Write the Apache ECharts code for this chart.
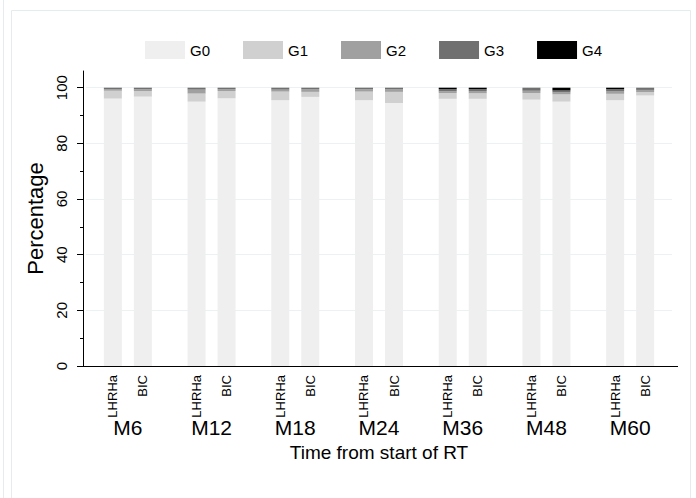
<!DOCTYPE html>
<html>
<head>
<meta charset="utf-8">
<script src="https://cdn.jsdelivr.net/npm/echarts@6/dist/echarts.min.js"></script>
<style>
  html, body { margin: 0; padding: 0; background: #fff; }
  #chart { width: 696px; height: 498px; }
</style>
</head>
<body>
<div id="chart"></div>
<script>
// Time points and treatment arms
const groups = ['M6', 'M12', 'M18', 'M24', 'M36', 'M48', 'M60'];
const arms = ['LHRHa', 'BIC'];
const grades = ['G0', 'G1', 'G2', 'G3', 'G4'];
const gradeColors = ['#efefef', '#d0d0d0', '#a0a0a0', '#707070', '#000000'];
const yTicks = [0, 20, 40, 60, 80, 100];
const yMinorTicks = [10, 30, 50, 70, 90];

// Percentage of patients per toxicity grade, LHRHa arm
const lhrhaG0 = [96.1, 95.0, 95.5, 95.5, 96.0, 95.7, 95.5];
const lhrhaG1 = [2.8, 2.9, 3.1, 3.1, 2.1, 2.4, 2.3];
const lhrhaG2 = [0.6, 1.4, 0.7, 0.8, 0.6, 0.8, 1.0];
const lhrhaG3 = [0.5, 0.7, 0.7, 0.6, 0.8, 1.1, 0.7];
const lhrhaG4 = [0, 0, 0, 0, 0.5, 0, 0.5];

// Percentage of patients per toxicity grade, BIC arm
const bicG0 = [96.8, 96.2, 96.7, 94.5, 96.0, 95.0, 97.2];
const bicG1 = [2.0, 2.6, 1.8, 4.0, 2.0, 2.6, 1.2];
const bicG2 = [0.6, 0.7, 1.0, 1.0, 0.8, 0.7, 0.8];
const bicG3 = [0.6, 0.5, 0.5, 0.5, 0.7, 0.7, 0.8];
const bicG4 = [0, 0, 0, 0, 0.5, 1.0, 0];

const armData = [
  [lhrhaG0, lhrhaG1, lhrhaG2, lhrhaG3, lhrhaG4],
  [bicG0, bicG1, bicG2, bicG3, bicG4]
];

const FONT = '"Liberation Sans", Arial, sans-serif';
const Y_MAX = 106;
const AXIS_OFFSET = 3;      // y axis sits slightly left of the plot area
const X_LINE_OVERRUN = 6;   // x axis line runs a little past the last group

const series = [];
grades.forEach((g, gi) => {
  arms.forEach((arm, ai) => {
    series.push({
      type: 'bar',
      name: g,
      stack: arm,
      barWidth: 18,
      barGap: '66.7%',
      itemStyle: { color: gradeColors[gi] },
      emphasis: { disabled: true },
      label: gi === 0 ? {
        show: true,
        position: 'bottom',
        distance: 9,
        rotate: 90,
        align: 'right',
        verticalAlign: 'middle',
        formatter: () => arm,
        fontFamily: FONT,
        fontSize: 13,
        color: '#000'
      } : { show: false },
      data: armData[ai][gi]
    });
  });
});

const chart = echarts.init(document.getElementById('chart'), null, { renderer: 'svg' });
chart.setOption({
  animation: false,
  backgroundColor: '#ffffff',
  textStyle: { fontFamily: FONT },
  graphic: [
    { id: 'outerEdge', type: 'line', z: -10, shape: { x1: 3.5, y1: 0, x2: 3.5, y2: 498 }, style: { stroke: '#e3edee', lineWidth: 1 }, silent: true },
    { id: 'frame', type: 'rect', z: -10, shape: { x: 11.5, y: 10.5, width: 679, height: 520 }, style: { fill: null, stroke: '#e3edee', lineWidth: 1 }, silent: true }
  ],
  legend: {
    data: grades,
    left: 140,
    top: 36,
    itemWidth: 40,
    itemHeight: 18,
    itemGap: 33,
    icon: 'rect',
    selectedMode: false,
    textStyle: { fontFamily: FONT, fontSize: 15, color: '#000' }
  },
  grid: { left: 86, right: 24, top: 71, bottom: 132 },
  xAxis: {
    type: 'category',
    data: groups,
    axisLine: { show: true, onZero: false, lineStyle: { color: '#000', width: 1 } },
    axisTick: { show: false },
    axisLabel: { margin: 51, fontSize: 21, color: '#000', fontFamily: FONT },
    name: 'Time from start of RT',
    nameLocation: 'middle',
    nameGap: 77,
    nameTextStyle: { fontSize: 19, color: '#000', fontFamily: FONT }
  },
  yAxis: [
    {
      type: 'value',
      position: 'left',
      offset: AXIS_OFFSET,
      min: 0,
      max: Y_MAX,
      axisLine: { show: true, onZero: false, lineStyle: { color: '#000', width: 1 } },
      axisTick: { show: true, length: 6, customValues: yTicks, lineStyle: { color: '#000', width: 1 } },
      axisLabel: { customValues: yTicks, rotate: 90, margin: 14, fontSize: 15, color: '#000', fontFamily: FONT },
      splitLine: { show: true, lineStyle: { color: ['#ffffff', '#eaf2f3', '#eaf2f3', '#eaf2f3', '#eaf2f3', '#eaf2f3'], width: 1 } },
      name: 'Percentage',
      nameLocation: 'middle',
      nameGap: 21,
      nameTextStyle: { fontSize: 22, color: '#000', fontFamily: FONT }
    },
    {
      type: 'value',
      position: 'left',
      offset: AXIS_OFFSET,
      min: 0,
      max: Y_MAX,
      axisLine: { show: false, onZero: false },
      axisTick: { show: true, length: 3, customValues: yMinorTicks, lineStyle: { color: '#000', width: 1 } },
      axisLabel: { show: false },
      splitLine: { show: false }
    }
  ],
  series: series
});

// Close the corner gap and let the x axis line run slightly past the plot,
// using positions taken from the chart's own scales
const crisp = v => Math.round(v) + 0.5;
const c0 = chart.convertToPixel({ xAxisIndex: 0 }, groups[0]);
const c1 = chart.convertToPixel({ xAxisIndex: 0 }, groups[1]);
const band = c1 - c0;
const plotLeft = c0 - band / 2;
const plotRight = c0 + (groups.length - 0.5) * band;
const baseY = crisp(chart.convertToPixel({ yAxisIndex: 0 }, 0));

chart.setOption({
  graphic: [
    { id: 'xLineLeft', type: 'line', z: 5, silent: true,
      shape: { x1: plotLeft - AXIS_OFFSET, y1: baseY, x2: plotLeft, y2: baseY },
      style: { stroke: '#000', lineWidth: 1 } },
    { id: 'xLineRight', type: 'line', z: 5, silent: true,
      shape: { x1: plotRight, y1: baseY, x2: plotRight + X_LINE_OVERRUN, y2: baseY },
      style: { stroke: '#000', lineWidth: 1 } }
  ]
});
</script>
</body>
</html>
